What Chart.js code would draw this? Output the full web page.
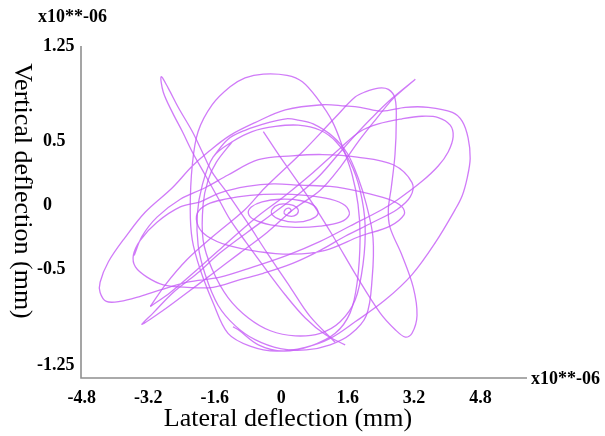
<!DOCTYPE html>
<html><head><meta charset="utf-8">
<script src="https://cdn.jsdelivr.net/npm/chart.js@4/dist/chart.umd.min.js"></script>
<style>html,body{margin:0;padding:0;background:#fff;}</style>
</head><body>
<canvas id="c" width="605" height="436"></canvas>
<script>
// ---- axis / tick data ----
const xTickValues = [-4.8, -3.2, -1.6, 0, 1.6, 3.2, 4.8];
const xTickLabels = ['-4.8', '-3.2', '-1.6', '0', '1.6', '3.2', '4.8'];
const yTickValues = [1.25, 0.5, 0, -0.5, -1.25];
const yTickLabels = ['1.25', '0.5', '0', '-0.5', '-1.25'];
const xRange = [-4.82, 5.87];
const yRange = [-1.35, 1.25];
const scaleNote = 'x10**-06';
const xTitle = 'Lateral deflection (mm)';
const yTitle = 'Vertical deflection (mm)';

// ---- trajectory pieces [lateral, vertical] ----
const spiralPath = [[0.17,-0.06],[0.24,-0.04],[0.19,-0.02],[0.10,-0.03],[0.07,-0.06],[0.17,-0.08],[0.31,-0.08],[0.41,-0.05],[0.36,-0.01],[0.19,0.01],[-0.05,0.01],[-0.22,-0.03],[-0.22,-0.07],[-0.02,-0.11],[0.34,-0.13],[0.70,-0.11],[0.89,-0.06],[0.79,0.00],[0.46,0.04],[-0.02,0.05],[-0.46,0.03],[-0.72,-0.01],[-0.79,-0.06],[-0.65,-0.11],[-0.26,-0.15],[0.34,-0.17],[0.94,-0.16],[1.42,-0.13],[1.64,-0.07],[1.54,0.00],[1.18,0.05],[0.58,0.08],[-0.07,0.09],[-0.75,0.08],[-1.35,0.05],[-1.78,0.01],[-2.02,-0.06],[-2.00,-0.16],[-1.78,-0.24],[-1.30,-0.31],[-0.55,-0.36],[0.26,-0.38],[1.06,-0.35],[1.90,-0.24],[2.62,-0.16],[2.96,-0.07],[2.91,-0.01],[2.58,0.05],[1.90,0.11],[1.18,0.15],[0.46,0.16],[-0.19,0.17],[-0.82,0.15],[-1.47,0.10],[-1.95,0.03],[-2.43,-0.01],[-2.99,-0.13],[-3.39,-0.27],[-3.56,-0.39],[-3.51,-0.48],[-3.23,-0.56],[-2.84,-0.62],[-2.26,-0.64],[-1.64,-0.64],[-0.99,-0.58],[-0.43,-0.53],[0.29,-0.45],[0.94,-0.35],[1.54,-0.24],[2.21,-0.13],[2.79,-0.03],[3.11,0.07],[3.15,0.18],[2.70,0.32],[1.83,0.38],[0.99,0.40],[0.26,0.39],[-0.55,0.36],[-1.28,0.24],[-1.83,0.14],[-2.43,0.05],[-2.99,-0.09],[-3.35,-0.24],[-3.54,-0.39]];

const outerPath = [[-3.15,-0.79],[-2.67,-0.68],[-2.02,-0.50],[-1.40,-0.32],[-0.63,-0.10],[0.10,0.08],[0.77,0.26],[1.42,0.45],[1.90,0.58],[2.34,0.64],[2.91,0.68],[3.39,0.70],[3.78,0.69],[4.07,0.63],[4.14,0.54],[4.02,0.42],[3.78,0.31],[3.39,0.19],[2.82,0.05],[2.43,-0.03],[1.66,-0.16],[0.94,-0.28],[0.14,-0.39],[-0.67,-0.48],[-1.47,-0.56],[-2.26,-0.60],[-2.91,-0.66],[-3.39,-0.71],[-3.88,-0.75],[-4.21,-0.75],[-4.36,-0.68],[-4.36,-0.60],[-4.16,-0.44],[-3.76,-0.25],[-3.27,-0.05],[-2.62,0.14],[-2.14,0.31],[-1.76,0.42],[-1.23,0.55],[-0.63,0.65],[0.10,0.75],[0.99,0.79],[1.54,0.78],[1.90,0.77],[2.43,0.74],[2.99,0.77],[3.54,0.77],[4.12,0.73],[4.36,0.66],[4.50,0.53],[4.55,0.37],[4.48,0.22],[4.36,0.08],[4.19,-0.03],[3.71,-0.29],[3.15,-0.54],[2.50,-0.74],[1.78,-0.91],[1.18,-1.04],[0.58,-1.11],[-0.10,-1.14],[-0.75,-1.10],[-1.28,-1.00],[-1.64,-0.76],[-1.95,-0.50],[-2.14,-0.27],[-2.19,-0.03],[-2.14,0.32],[-2.00,0.58],[-1.66,0.79],[-1.23,0.93],[-0.87,1.00],[-0.43,1.03],[0.14,1.02],[0.51,0.97],[0.89,0.83],[1.23,0.66],[1.49,0.45],[1.71,0.24],[1.85,0.01],[1.90,-0.25],[1.83,-0.60],[1.66,-0.84],[1.30,-1.00],[0.70,-1.10],[0.05,-1.14],[-0.55,-1.09],[-1.04,-0.97],[-1.16,-0.95]];

const uprightLoops = [[-1.64,0.38],[-1.28,0.52],[-0.87,0.59],[-0.31,0.65],[0.12,0.68],[0.41,0.67],[0.77,0.64],[1.25,0.54],[1.59,0.41],[1.85,0.22],[2.05,0.01],[2.21,-0.25],[2.19,-0.57],[2.05,-0.86],[1.66,-1.01],[1.18,-1.09],[0.60,-1.13],[-0.02,-1.12],[-0.63,-1.05],[-1.11,-0.94],[-1.52,-0.78],[-1.83,-0.54],[-2.00,-0.31],[-2.02,-0.07],[-1.90,0.16],[-1.64,0.38],[-1.18,0.50],[-0.70,0.58],[-0.14,0.62],[0.41,0.63],[0.94,0.59],[1.32,0.50],[1.66,0.34],[1.90,0.12],[2.02,-0.15],[1.97,-0.46],[1.78,-0.74],[1.42,-0.91],[0.94,-1.00],[0.34,-1.02],[-0.26,-0.98],[-0.79,-0.88],[-1.28,-0.72],[-1.66,-0.50],[-1.88,-0.27],[-1.88,0.01],[-1.76,0.20],[-1.56,0.34],[-1.18,0.50]];

const needlePath = [[1.54,-1.09],[1.06,-1.01],[0.58,-0.88],[0.10,-0.70],[-0.39,-0.49],[-0.84,-0.29],[-1.23,-0.11],[-1.52,0.06],[-1.83,0.24],[-2.14,0.42],[-2.38,0.58],[-2.62,0.73],[-2.84,0.89],[-2.89,1.01],[-2.72,0.92],[-2.48,0.77],[-2.14,0.58],[-1.90,0.42],[-1.66,0.26],[-1.30,0.10],[-0.82,-0.13],[-0.34,-0.37],[0.22,-0.64],[0.70,-0.87],[1.30,-1.07]];

const diagonalPath = [[3.23,0.99],[2.67,0.84],[2.19,0.69],[1.78,0.55],[1.37,0.40],[0.94,0.24],[0.46,0.10],[-0.19,-0.06],[-0.82,-0.21],[-1.47,-0.37],[-2.02,-0.53],[-2.60,-0.68],[-3.08,-0.84],[-3.35,-0.93],[-2.84,-0.82],[-2.26,-0.68],[-1.64,-0.53],[-0.99,-0.37],[-0.34,-0.21],[0.29,-0.03],[0.94,0.12],[1.42,0.30],[1.83,0.49],[2.24,0.66],[2.70,0.84],[3.23,0.99]];

const startPath = [[-0.43,0.58],[-0.02,0.38],[0.39,0.19],[0.77,0.01],[1.25,-0.24],[1.83,-0.56],[2.38,-0.84],[2.74,-0.97],[2.99,-1.03],[3.15,-1.00],[3.27,-0.86],[3.18,-0.64],[2.91,-0.39],[2.62,-0.17],[2.58,-0.03],[2.65,0.14],[2.74,0.40],[2.77,0.66],[2.74,0.84],[2.58,0.91],[2.34,0.92],[2.02,0.89],[1.78,0.85],[1.30,0.69],[0.51,0.42],[-0.39,0.14],[-0.87,-0.03],[-1.64,-0.24],[-2.26,-0.42],[-2.79,-0.62],[-3.15,-0.79]];

const LINE = 'rgba(196,90,246,0.8)';
const pieces = [spiralPath, outerPath, uprightLoops, needlePath, diagonalPath, startPath];

const axisPlugin = {
  id: 'axisDecor',
  afterDraw(chart) {
    const { ctx, chartArea: a, scales: { x, y } } = chart;
    ctx.save();
    ctx.strokeStyle = '#8f8f8f';
    ctx.lineWidth = 1.6;
    ctx.beginPath();
    ctx.moveTo(a.left, a.top);
    ctx.lineTo(a.left, a.bottom);
    ctx.lineTo(a.right + 2, a.bottom);
    ctx.stroke();

    ctx.fillStyle = '#000';
    ctx.font = 'bold 18px "Liberation Serif"';
    ctx.textBaseline = 'middle';
    ctx.textAlign = 'center';
    xTickValues.forEach((v, i) => ctx.fillText(xTickLabels[i], x.getPixelForValue(v), a.bottom + 20));
    ctx.textAlign = 'left';
    yTickValues.forEach((v, i) => ctx.fillText(yTickLabels[i], v < 0 ? 37 : 43, y.getPixelForValue(v)));
    ctx.fillText(scaleNote, 38, 17);
    ctx.fillText(scaleNote, a.right + 6, a.bottom + 1);

    ctx.font = '26px "Liberation Serif"';
    ctx.textAlign = 'center';
    ctx.fillText(xTitle, 288, 419);
    ctx.translate(22, 191);
    ctx.rotate(Math.PI / 2);
    ctx.fillText(yTitle, 0, 0);
    ctx.restore();
  }
};

new Chart(document.getElementById('c'), {
  type: 'scatter',
  data: {
    datasets: pieces.map(p => ({
      data: p.map(([px, py]) => ({ x: px, y: py })),
      showLine: true,
      borderColor: LINE,
      borderWidth: 1.3,
      pointRadius: 0,
      tension: 0.35,
      fill: false
    }))
  },
  options: {
    responsive: false,
    animation: false,
    events: [],
    layout: { padding: { left: 81, right: 80, top: 46, bottom: 58 } },
    plugins: { legend: { display: false }, tooltip: { enabled: false } },
    scales: {
      x: { type: 'linear', min: xRange[0], max: xRange[1], display: false },
      y: { type: 'linear', min: yRange[0], max: yRange[1], display: false }
    }
  },
  plugins: [axisPlugin]
});
</script>
</body></html>
